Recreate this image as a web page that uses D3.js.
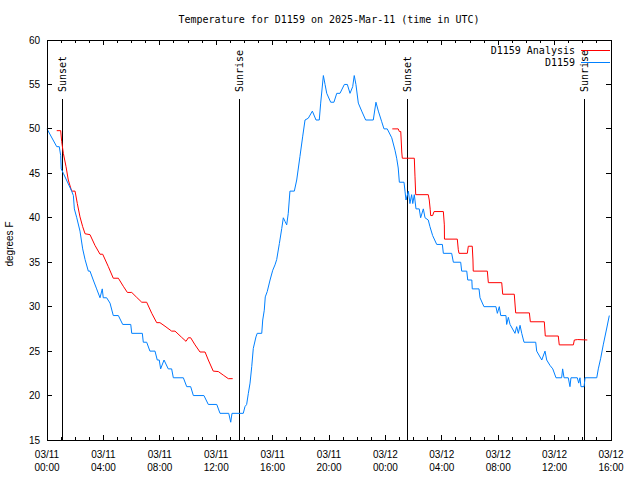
<!DOCTYPE html>
<html><head><meta charset="utf-8">
<script src="https://cdn.jsdelivr.net/npm/d3@7"></script>
<style>body{margin:0;background:#fff}svg{display:block}</style>
</head><body><svg id="c" width="640" height="480"></svg>
<script>
const title = "Temperature for D1159 on 2025-Mar-11 (time in UTC)";
const yLabel = "degrees F";
const seriesNames = ["D1159 Analysis", "D1159"];
const seriesColors = ["#ff0000", "#0080ff"];
const yTicks = [15,20,25,30,35,40,45,50,55,60];
const sunLabels = ["Sunset","Sunrise","Sunset","Sunrise"];
const sunHours = [1.03, 13.64, 25.56, 38.10];
// hours since 2025-03-11 00:00 UTC
const obsHours = [0.00,0.69,0.87,0.97,1.01,1.16,1.75,1.87,1.94,2.11,2.34,2.53,2.70,2.93,3.05,3.28,3.52,3.76,3.92,3.99,4.23,4.47,4.70,5.06,5.37,5.94,6.01,6.76,6.83,7.07,7.30,7.66,7.82,7.96,8.06,8.30,8.60,8.84,8.96,9.67,9.91,10.19,10.38,11.13,11.44,12.04,12.27,12.89,13.03,13.12,13.92,14.04,14.16,14.28,14.40,14.52,14.63,14.82,14.91,15.23,15.30,15.41,15.48,15.62,15.82,16.01,16.17,16.29,16.48,16.65,16.76,16.88,17.00,17.11,17.23,17.54,17.71,17.94,18.13,18.30,18.53,18.82,19.08,19.31,19.41,19.60,19.72,19.84,20.12,20.35,20.55,20.78,21.09,21.30,21.49,21.68,21.79,21.91,22.08,22.32,22.60,23.14,23.33,23.50,23.74,23.90,24.13,24.45,24.68,24.80,24.91,24.99,25.32,25.39,25.46,25.63,25.74,25.86,25.94,26.05,26.17,26.40,26.50,26.69,26.81,27.04,27.16,27.35,27.64,28.04,28.11,28.70,28.82,29.34,29.41,29.77,29.84,30.13,30.16,30.64,30.71,30.99,31.84,31.94,32.08,32.18,32.55,32.60,32.72,32.84,33.19,33.31,33.43,33.55,33.67,33.83,34.66,34.73,35.09,35.32,35.44,35.67,35.87,36.10,36.50,36.57,36.67,36.97,37.09,37.16,37.61,37.71,37.80,37.87,38.09,38.16,38.99,39.10,39.27,39.45,39.70,39.88];
const obsTemps = [50,48,48,47,45.5,45,43,42.5,41,40,38.5,36.5,35.3,34,34,33,32,31,32,31,31,30.4,29,29,28,28,27,27,26,26,25,25,24,24,23,24,23,23,22,22,21,21,20,20,19,19,18,18,17,18,18,18.75,19,20.25,21.4,23.25,25.3,26.6,27,27,28.5,29.6,31.1,31.7,33,34.1,34.7,35.3,37.1,38.8,40,39.6,39.2,40.5,43,43,44.25,46.9,49.1,51,51.2,52,51,51,52.9,56,55,54,53,53,54,54,55,55,54,54.75,56,55,52.9,52,51,51,53,52,50.8,50,50,49,47.6,46.7,45.6,44,44,43,42,43,41.6,42.6,41.6,42.6,41,41,40,41,40,39.75,39,38,37,37,36,36,35,35,34,34,33,33,32,32,31,30,30,29.25,30,29,29,28,28.8,28,27,27.75,27,27.9,27,26,26,25,24,25,24,23.4,23,22,22,23,22,22,21,22,22,21.4,22,21,21,22,22,23,24.2,25.7,27.6,29];
const anaHours = [0.69,0.97,1.04,1.16,1.35,1.51,1.75,1.99,2.15,2.34,2.53,2.70,3.05,3.40,3.76,3.95,4.35,4.70,5.06,5.41,5.70,6.01,6.36,6.72,7.07,7.43,7.78,8.01,8.37,8.84,9.08,9.55,9.86,10.02,10.19,10.50,10.85,11.21,11.44,11.79,12.15,12.50,12.86,13.17,18.0,24.49,24.91,24.99,25.09,25.16,25.20,26.05,26.10,26.15,27.04,27.11,27.18,27.21,27.35,27.45,28.11,28.18,28.19,29.10,29.17,29.22,29.81,29.88,30.16,30.21,30.23,31.23,31.30,32.25,32.32,33.14,33.24,34.21,34.28,35.27,35.34,36.26,36.33,37.33,37.40,37.64,38.32];
const anaTemps = [49.8,49.8,48.6,47.25,45.75,44.25,43,43,41.6,40.1,39,38.2,38.1,36.9,35.9,35.9,34.5,33.2,33.2,32.3,31.6,31.6,31.05,30.5,30.5,29.25,28.2,28.2,27.8,27.25,27.25,26.55,26.1,26.5,26.5,25.7,24.9,24.9,24.0,22.75,22.7,22.3,21.9,21.9,null,50,50,49.7,49.7,47.4,46.7,46.7,44.6,42.6,42.6,42.0,40.9,40.25,40.25,40.7,40.7,39.2,37.6,37.6,36.4,36.0,36.0,36.8,36.8,35.25,34.0,34.0,32.7,32.7,31.4,31.4,29.3,29.3,28.3,28.3,26.7,26.7,25.7,25.7,26.25,26.3,26.25];

const t0 = Date.UTC(2025,2,11,0,0);
const toDate = h => new Date(t0 + h*3600e3);
const L = 47, R = 611, T = 40, B = 440;
const svg = d3.select("#c");
const x = d3.scaleUtc().domain([toDate(0), toDate(40)]).range([L, R]);
const y = d3.scaleLinear().domain([15, 60]).range([B, T]);
const mono = "'DejaVu Sans Mono', monospace";
const sans = "'Liberation Sans', Arial, sans-serif";

// title
svg.append("text").attr("x", 329).attr("y", 23).attr("text-anchor","middle")
  .attr("font-family", mono).attr("font-size", 10).text(title);

// axes
const fmtD = d3.utcFormat("%m/%d"), fmtT = d3.utcFormat("%H:%M");
const major = x.ticks(d3.utcHour.every(4));
const minor = x.ticks(d3.utcHour.every(1));
const gAx = svg.append("g").attr("shape-rendering","crispEdges").attr("stroke","#000");
minor.forEach(d => {
  const len = (d.getUTCHours() % 4 === 0) ? 5 : 3;
  gAx.append("line").attr("x1", x(d)).attr("x2", x(d)).attr("y1", B).attr("y2", B-len);
  gAx.append("line").attr("x1", x(d)).attr("x2", x(d)).attr("y1", T).attr("y2", T+len);
});
yTicks.forEach(v => {
  gAx.append("line").attr("x1", L).attr("x2", L+5).attr("y1", y(v)).attr("y2", y(v));
  gAx.append("line").attr("x1", R).attr("x2", R-5).attr("y1", y(v)).attr("y2", y(v));
});
const xl = svg.append("g").attr("font-family", sans).attr("font-size", 10).attr("text-anchor","middle");
major.forEach(d => {
  const t = xl.append("text").attr("x", x(d));
  t.append("tspan").attr("x", x(d)).attr("y", 458).text(fmtD(d));
  t.append("tspan").attr("x", x(d)).attr("y", 471).text(fmtT(d));
});
const yl = svg.append("g").attr("font-family", sans).attr("font-size", 10).attr("text-anchor","end");
yTicks.forEach(v => yl.append("text").attr("x", 40).attr("y", y(v)).attr("dy","0.35em").text(v));
svg.append("text").attr("transform","translate(13,244) rotate(-90)").attr("text-anchor","middle")
  .attr("font-family", sans).attr("font-size", 10).text(yLabel);

// sun lines
sunHours.forEach((h, i) => {
  const sx = Math.round(x(toDate(h))) + 0.5;
  svg.append("line").attr("x1", sx).attr("x2", sx).attr("y1", 99).attr("y2", B)
    .attr("stroke","#000").attr("shape-rendering","crispEdges");
  svg.append("text").attr("transform", `translate(${sx},92) rotate(-90)`).attr("dy","0.35em")
    .attr("font-family", mono).attr("font-size", 10).text(sunLabels[i]);
});

// data
const line = d3.line().defined(d => d[1] != null).x(d => x(toDate(d[0]))).y(d => y(d[1]));
const ana = anaHours.map((h,i) => [h, anaTemps[i]]);
const obs = obsHours.map((h,i) => [h, obsTemps[i]]);
svg.append("path").attr("d", line(ana)).attr("fill","none").attr("stroke", seriesColors[0]).attr("stroke-width",1);
svg.append("path").attr("d", line(obs)).attr("fill","none").attr("stroke", seriesColors[1]).attr("stroke-width",1);

// frame
svg.append("rect").attr("x", L+0.5).attr("y", T+0.5).attr("width", R-L).attr("height", B-T)
  .attr("fill","none").attr("stroke","#000").attr("shape-rendering","crispEdges");

// legend
seriesNames.forEach((n, i) => {
  const ly = 50 + i*12;
  svg.append("text").attr("x", 575).attr("y", ly).attr("dy","0.35em").attr("text-anchor","end")
    .attr("font-family", mono).attr("font-size", 10).text(n);
  svg.append("line").attr("x1", 581).attr("x2", 610).attr("y1", ly+0.5).attr("y2", ly+0.5)
    .attr("stroke", seriesColors[i]).attr("shape-rendering","crispEdges");
});
</script></body></html>
